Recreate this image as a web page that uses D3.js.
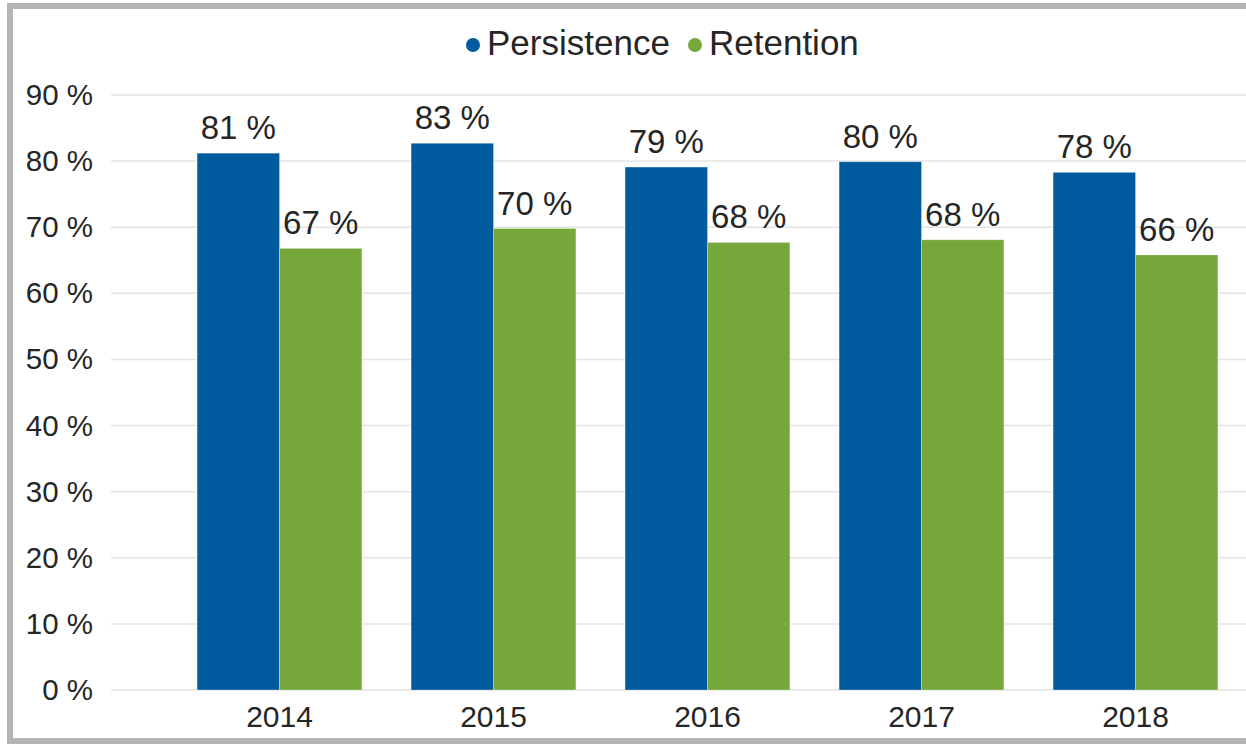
<!DOCTYPE html>
<html lang="en">
<head>
<meta charset="utf-8">
<style>
  html, body { margin: 0; padding: 0; background: #fff; }
  svg { display: block; font-family: "Liberation Sans", Arial, sans-serif; }
</style>
</head>
<body>
<svg id="chart"></svg>
<script src="https://cdn.jsdelivr.net/npm/d3@7"></script>
<script>
// data
var years = ["2014", "2015", "2016", "2017", "2018"];
var seriesNames = ["Persistence", "Retention"];
var persistence = [0.812, 0.827, 0.791, 0.799, 0.783];
var retention = [0.668, 0.698, 0.677, 0.681, 0.658];
var yTicks = [0, 0.1, 0.2, 0.3, 0.4, 0.5, 0.6, 0.7, 0.8, 0.9];

var colors = { Persistence: "#005a9e", Retention: "#76a73a" };
var textColor = "#262626";

var width = 1246, height = 744;

var svg = d3.select("#chart")
    .attr("width", width)
    .attr("height", height);

// outer grey frame
svg.append("rect")
    .attr("x", 10).attr("y", 6)
    .attr("width", 1250).attr("height", 735)
    .attr("fill", "#fff")
    .attr("stroke", "#b5b5b5")
    .attr("stroke-width", 6);

var y = d3.scaleLinear().domain([0, 0.9]).range([690, 95]);

var x0 = d3.scaleBand()
    .domain(years)
    .range([172.5, 1242.5])
    .paddingInner(0.23)
    .paddingOuter(0.115);

var x1 = d3.scaleBand()
    .domain(seriesNames)
    .range([0, x0.bandwidth()]);

var rows = years.map(function (yr, i) {
    return { year: yr, values: [
        { key: "Persistence", value: persistence[i] },
        { key: "Retention", value: retention[i] }
    ] };
});

// gridlines
svg.append("g")
    .selectAll("line")
    .data(yTicks)
    .enter()
    .append("line")
    .attr("x1", 111).attr("x2", 1246)
    .attr("y1", function (d) { return y(d); })
    .attr("y2", function (d) { return y(d); })
    .attr("stroke", "#e4e4e4")
    .attr("stroke-width", 1.5);

// y axis labels
var yAxis = svg.append("g")
    .attr("transform", "translate(111,0)")
    .call(d3.axisLeft(y).tickValues(yTicks).tickSize(0).tickPadding(18)
        .tickFormat(function (d) { return Math.round(d * 100) + " %"; }));
yAxis.select(".domain").remove();
yAxis.selectAll("text")
    .attr("font-size", 29.5)
    .attr("fill", textColor)
    .attr("font-family", "Liberation Sans, Arial, sans-serif");

// x axis labels
var xAxis = svg.append("g")
    .attr("transform", "translate(0,690)")
    .call(d3.axisBottom(x0).tickSize(0).tickPadding(16));
xAxis.select(".domain").remove();
xAxis.selectAll("text")
    .attr("font-size", 30)
    .attr("fill", textColor)
    .attr("font-family", "Liberation Sans, Arial, sans-serif");

// bars
var groups = svg.append("g")
    .selectAll("g")
    .data(rows)
    .enter()
    .append("g")
    .attr("transform", function (d) { return "translate(" + x0(d.year) + ",0)"; });

groups.selectAll("rect")
    .data(function (d) { return d.values; })
    .enter()
    .append("rect")
    .attr("x", function (d) { return x1(d.key); })
    .attr("y", function (d) { return y(d.value); })
    .attr("width", x1.bandwidth())
    .attr("height", function (d) { return y(0) - y(d.value); })
    .attr("fill", function (d) { return colors[d.key]; })
    .attr("stroke", "#ffffff")
    .attr("stroke-opacity", 0.35)
    .attr("stroke-width", 0.8);

// data labels
groups.selectAll("text")
    .data(function (d) { return d.values; })
    .enter()
    .append("text")
    .attr("x", function (d) { return x1(d.key) + x1.bandwidth() / 2; })
    .attr("y", function (d) { return y(d.value) - 14; })
    .attr("text-anchor", "middle")
    .attr("font-size", 33)
    .attr("fill", textColor)
    .text(function (d) { return Math.round(d.value * 100) + " %"; });

// legend
var legend = svg.append("g");
var legendPos = [{ key: "Persistence", cx: 473, tx: 487 }, { key: "Retention", cx: 695, tx: 709 }];
legend.selectAll("circle")
    .data(legendPos)
    .enter()
    .append("circle")
    .attr("cx", function (d) { return d.cx; })
    .attr("cy", 45)
    .attr("r", 7)
    .attr("fill", function (d) { return colors[d.key]; });
legend.selectAll("text")
    .data(legendPos)
    .enter()
    .append("text")
    .attr("x", function (d) { return d.tx; })
    .attr("y", 55)
    .attr("font-size", 35)
    .attr("fill", textColor)
    .text(function (d) { return d.key; });
</script>
</body>
</html>
